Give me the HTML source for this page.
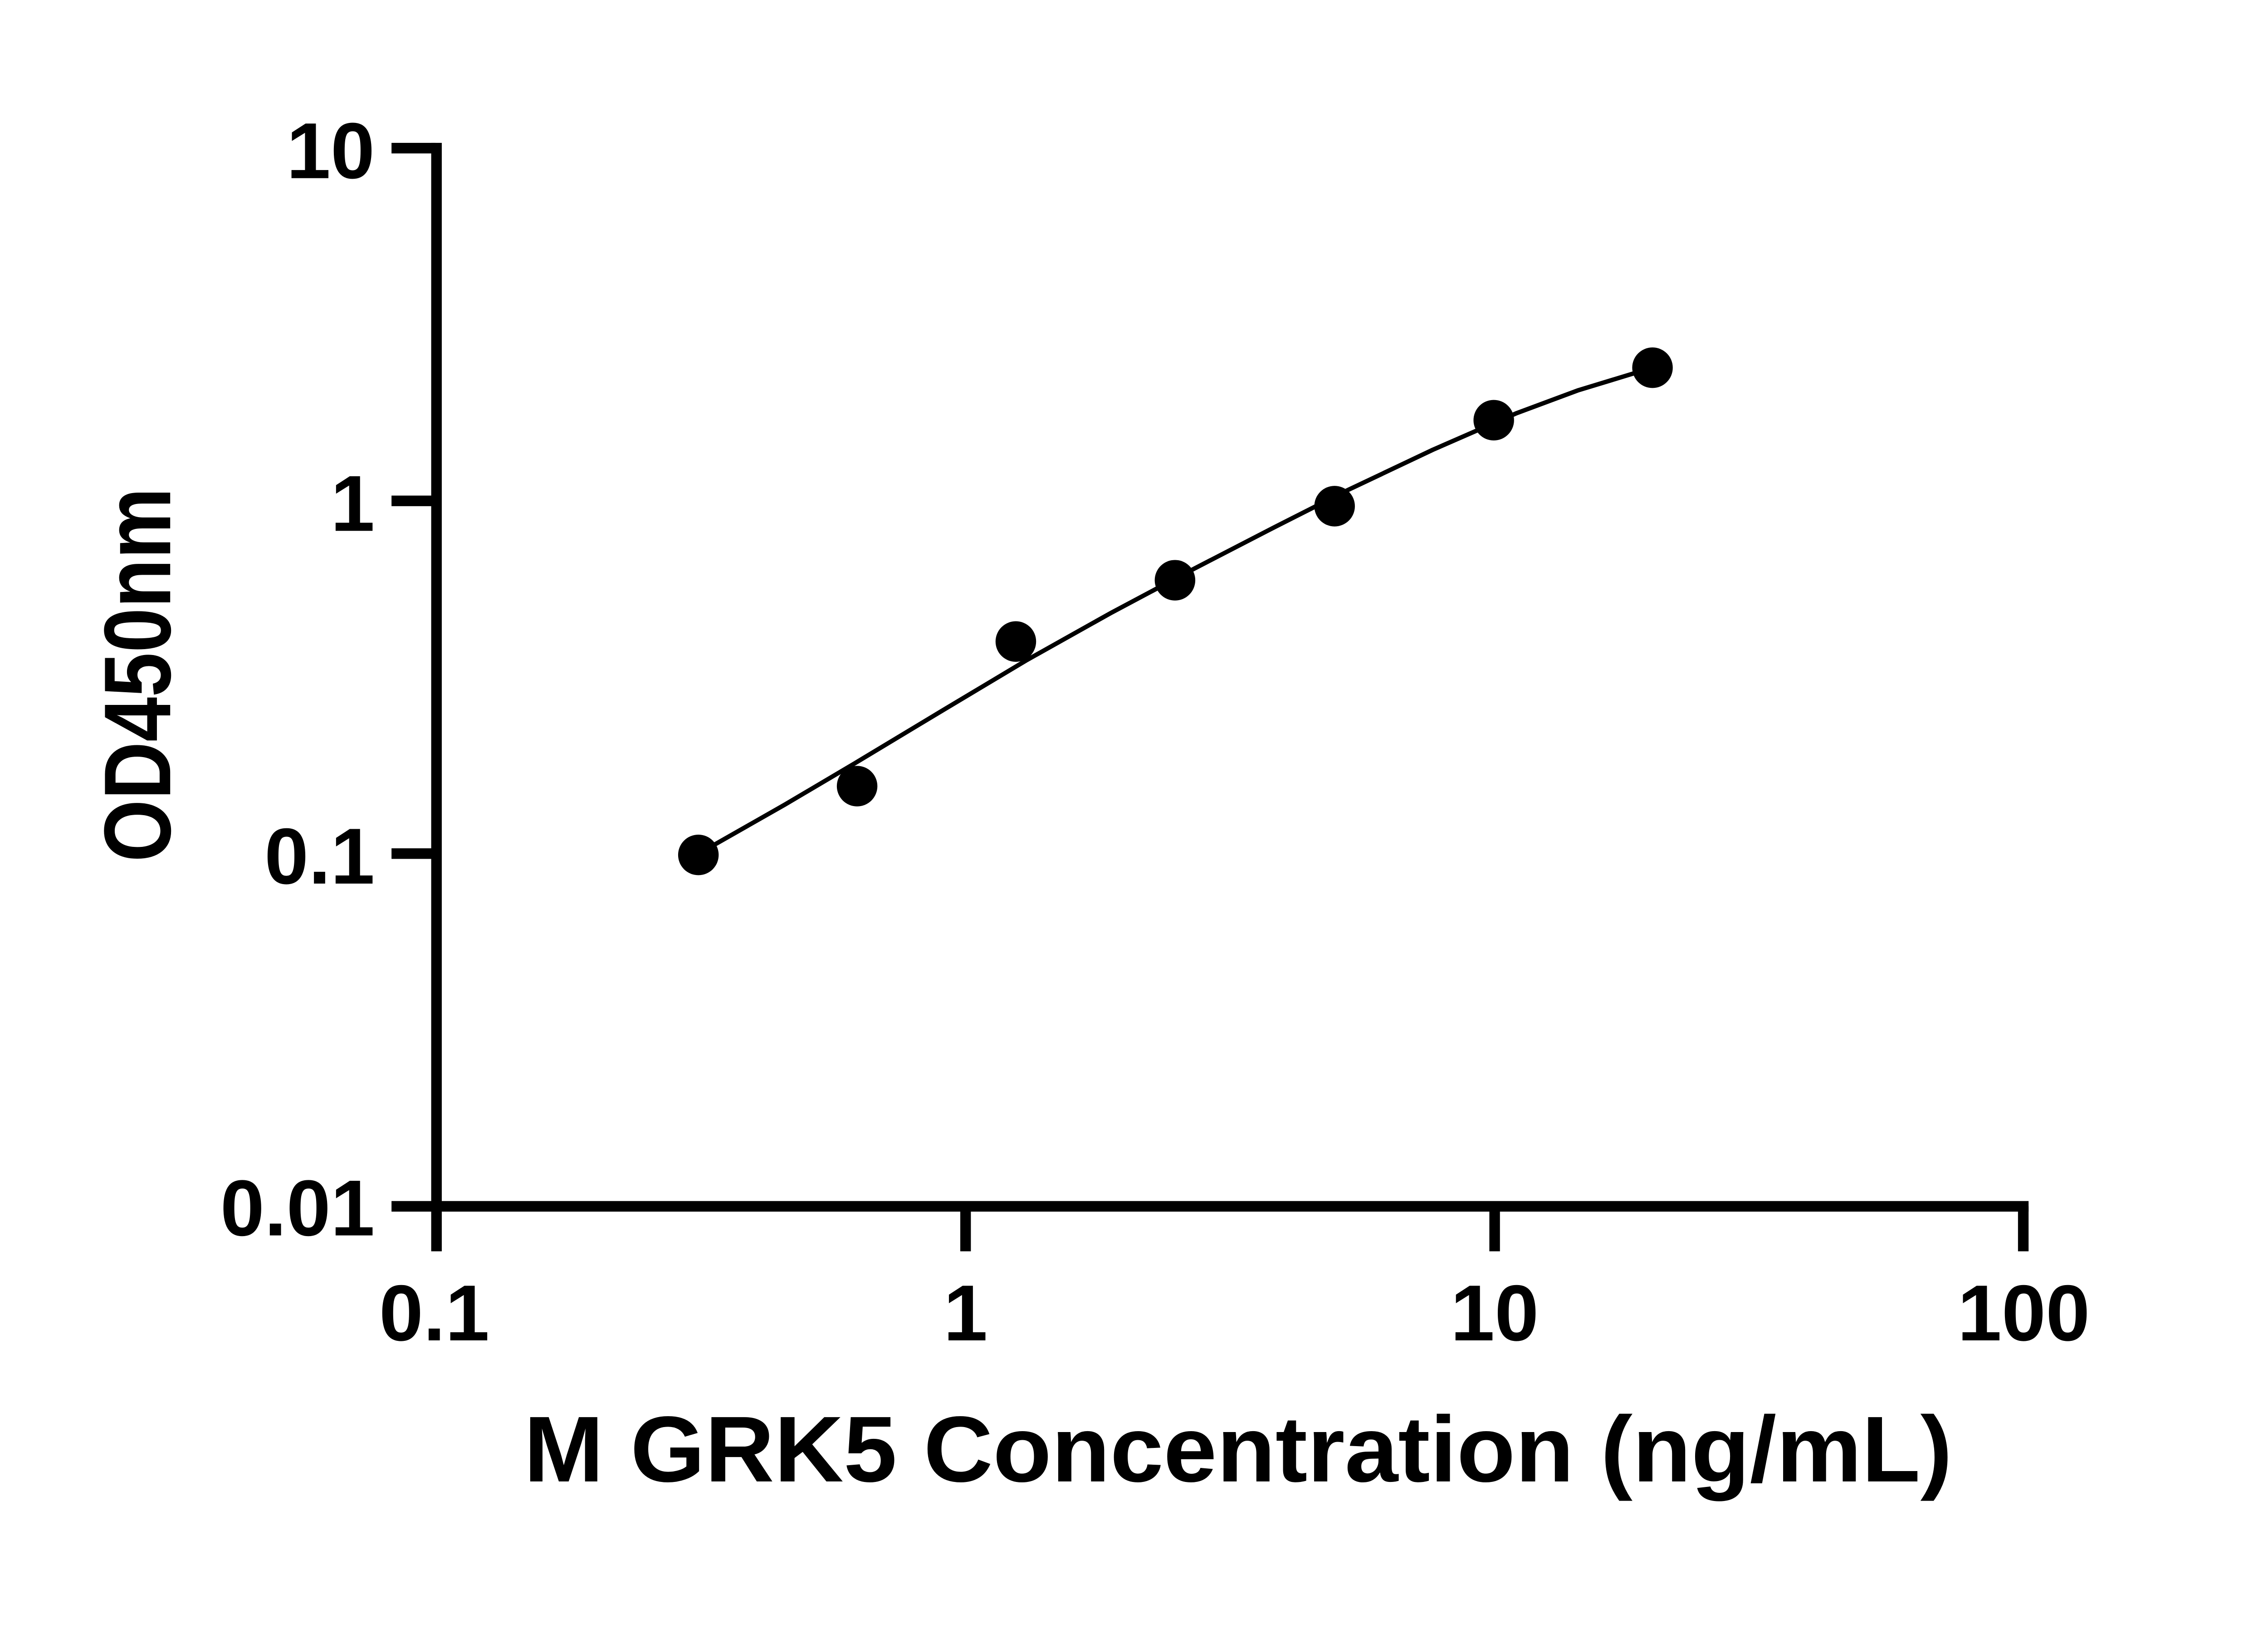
<!DOCTYPE html>
<html><head><meta charset="utf-8"><style>html,body{margin:0;padding:0;background:#fff}svg{display:block}</style></head>
<body>
<svg width="5142" height="3600" viewBox="0 0 5142 3600" xmlns="http://www.w3.org/2000/svg">
<rect width="5142" height="3600" fill="#fff"/>
<g transform="scale(0.972)">
<g fill="#000">
<rect x="978" y="324" width="24" height="2424"/>
<rect x="888" y="2724" width="3713" height="24"/>
<rect x="888" y="324" width="100" height="24"/>
<rect x="888" y="1124" width="100" height="24"/>
<rect x="888" y="1924" width="100" height="24"/>
<rect x="978" y="2736" width="24" height="102"/>
<rect x="2178" y="2736" width="24" height="102"/>
<rect x="3378" y="2736" width="24" height="102"/>
<rect x="4577" y="2736" width="24" height="102"/>
</g>
<g font-family="Liberation Sans, Arial, sans-serif" font-weight="bold" font-size="180" fill="#000">
<text x="850" y="404" text-anchor="end">10</text>
<text x="850" y="1204" text-anchor="end">1</text>
<text x="850" y="2004" text-anchor="end">0.1</text>
<text x="850" y="2802" text-anchor="end">0.01</text>
<text x="985" y="3040" text-anchor="middle">0.1</text>
<text x="2190" y="3040" text-anchor="middle">1</text>
<text x="3390" y="3040" text-anchor="middle">10</text>
<text x="4590" y="3040" text-anchor="middle">100</text>
</g>
<text x="1188" y="3360" font-family="Liberation Sans, Arial, sans-serif" font-weight="bold" font-size="212" textLength="3240" lengthAdjust="spacingAndGlyphs">M GRK5 Concentration (ng/mL)</text>
<text transform="translate(386,1955) rotate(-90)" x="0" y="0" font-family="Liberation Sans, Arial, sans-serif" font-weight="bold" font-size="215" textLength="849" lengthAdjust="spacingAndGlyphs">OD450nm</text>
<polyline points="1584,1939 1613,1920 1780,1825 1939,1731 2140,1610 2329,1497 2520,1390 2710,1289 2890,1196 3058,1111 3250,1020 3440,937 3580,885 3705,847 3748,834" fill="none" stroke="#000" stroke-width="10" stroke-linejoin="round"/>
<g fill="#000">
<circle cx="1584" cy="1939" r="46"/>
<circle cx="1944" cy="1783" r="46"/>
<circle cx="2304" cy="1455" r="46"/>
<circle cx="2665" cy="1316" r="46"/>
<circle cx="3027" cy="1148" r="46"/>
<circle cx="3388" cy="953" r="46"/>
<circle cx="3748" cy="834" r="46"/>
</g>
</g>
</svg>
</body></html>
